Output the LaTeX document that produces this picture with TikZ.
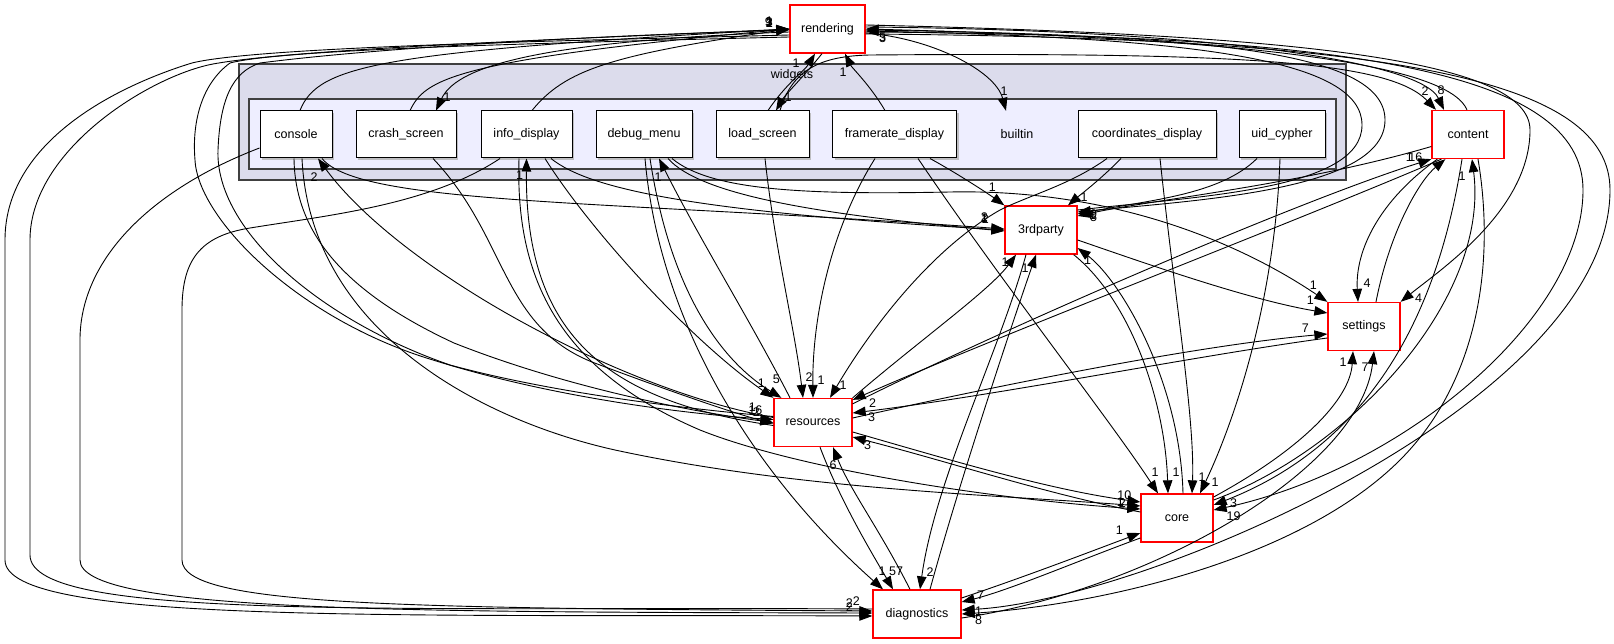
\documentclass[tikz,border=0pt]{standalone}
\usepackage{fontspec}
\setmainfont{Liberation Sans}
\usetikzlibrary{arrows.meta,shadows}

\definecolor{outerfill}{HTML}{DCDCEC}
\definecolor{innerfill}{HTML}{EEEEFF}
\definecolor{frameline}{HTML}{404040}

\begin{document}
\begin{tikzpicture}[x=1pt, y=-1pt,
    every node/.style={font=\fontsize{12.5}{15}\selectfont},
    dirbox/.style={draw=red, fill=white, line width=1.3pt, minimum height=48pt, inner sep=0pt},
    subbox/.style={draw=black, fill=white, line width=1pt, minimum height=47pt, inner sep=0pt,
      drop shadow={shadow xshift=2pt, shadow yshift=-2pt, fill=black!30, opacity=0.8}},
    dep/.style={line width=0.9pt, -{Triangle[length=13pt, width=9.5pt]}},
    num/.style={inner sep=0pt, at end}]
\useasboundingbox (0,0) rectangle (1614,644);

% the widgets cluster
\filldraw[fill=outerfill, draw=frameline, line width=1.6pt] (239,64) rectangle (1346,180);
\node (widgets) at (792,75) {widgets};
\filldraw[fill=innerfill, draw=frameline, line width=1.6pt] (249,99) rectangle (1336,169);

% subdirectories of builtin
\node[subbox, minimum width=72pt] (console) at (296,134.5) {console};
\node[subbox, minimum width=100pt] (crashscreen) at (406,134.5) {crash\_screen};
\node[subbox, minimum width=91pt] (infodisplay) at (526.5,134.5) {info\_display};
\node[subbox, minimum width=96pt] (debugmenu) at (644,134.5) {debug\_menu};
\node[subbox, minimum width=93pt] (loadscreen) at (762.5,134.5) {load\_screen};
\node[subbox, minimum width=124pt] (framerate) at (894.5,134.5) {framerate\_display};
\node[minimum height=47pt, inner sep=0pt] (builtin) at (1017,134.5) {builtin};
\node[subbox, minimum width=138pt] (coordsdisplay) at (1147,134.5) {coordinates\_display};
\node[subbox, minimum width=86pt] (uidcypher) at (1282,134.5) {uid\_cypher};

% top level directories
\node[dirbox, minimum width=75pt] (rendering) at (827.5,29) {rendering};
\node[dirbox, minimum width=72pt] (content) at (1468,134.5) {content};
\node[dirbox, minimum width=72pt] (thirdparty) at (1041,230) {3rdparty};
\node[dirbox, minimum width=72pt] (settings) at (1364,326.5) {settings};
\node[dirbox, minimum width=78pt] (resources) at (813,422.5) {resources};
\node[dirbox, minimum width=72pt] (core) at (1177,518) {core};
\node[dirbox, minimum width=88pt] (diagnostics) at (917,614) {diagnostics};

% widgets and rendering
\draw[dep] ([xshift=4]console.north) .. controls (318,65) and (380,52) .. (rendering.west) node[num, xshift=-20, yshift=8] {1};
\draw[dep] ([xshift=4]crashscreen.north) .. controls (425,80) and (450,60) .. (rendering.west) node[num, xshift=-20, yshift=6] {2};
\draw[dep] ([xshift=5.5]infodisplay.north) .. controls (565,70) and (610,55) .. (rendering.west) node[num, xshift=-21, yshift=7] {9};
\draw[dep] ([yshift=-3]rendering.west) .. controls (520,42) and (455,70) .. ([xshift=30]crashscreen.north) node[num, xshift=11, yshift=13] {1};
\draw[dep] ([xshift=5.5]loadscreen.north) .. controls (785,85) and (805,70) .. ([xshift=-12.5]rendering.south) node[num, xshift=-19, yshift=-10] {1};
\draw[dep] ([xshift=-5.5]rendering.south) .. controls (805,75) and (785,95) .. ([xshift=13.5]loadscreen.north) node[num, xshift=12, yshift=13] {1};
\draw[dep] ([xshift=-9.5]framerate.north) .. controls (870,85) and (852,68) .. ([xshift=17.5]rendering.south) node[num, xshift=-2, yshift=-19] {1};
\draw[dep] ([yshift=-4]rendering.east) .. controls (930,38) and (995,70) .. ([xshift=-11]builtin.north) node[num, xshift=-2, yshift=20] {1};

% rendering and content
\draw[dep] ([yshift=2]rendering.east) .. controls (1200,30) and (1420,60) .. ([xshift=-24]content.north) node[num, xshift=-3, yshift=20] {8};
\draw[dep] ([xshift=17.5]loadscreen.north) .. controls (792,70) and (820,56) .. (870,55) .. controls (1250,52) and (1390,62) .. ([xshift=-32]content.north) node[num, xshift=-11, yshift=19] {2};
\draw[dep] ([xshift=-1]content.north) .. controls (1450,70) and (1300,40) .. (rendering.east) node[num, xshift=17, yshift=-8] {5};

% into 3rdparty from the right
\draw[dep] ([yshift=-1]rendering.east) .. controls (1200,35) and (1385,50) .. (1385,120) .. controls (1385,190) and (1200,200) .. ([yshift=18]thirdparty.east) node[num, xshift=16, yshift=-2] {9};
\draw[dep] ([yshift=20]thirdparty.east) .. controls (1200,196) and (1362,190) .. (1362,125) .. controls (1362,60) and (1200,38) .. ([yshift=-2]rendering.east) node[num, xshift=17, yshift=-7] {3};
\draw[dep] ([xshift=-25]uidcypher.south) .. controls (1220,195) and (1150,200) .. ([yshift=16]thirdparty.east) node[num, xshift=15, yshift=-1] {1};
\draw[dep] ([yshift=-12]content.west) .. controls (1300,185) and (1150,200) .. ([yshift=14]thirdparty.east) node[num, xshift=16, yshift=-1] {5};

% widgets into 3rdparty
\draw[dep] ([xshift=35.5]framerate.south) .. controls (960,175) and (990,195) .. (thirdparty.north west) node[num, xshift=-12, yshift=18] {1};
\draw[dep] ([xshift=-26]coordsdisplay.south) .. controls (1100,180) and (1080,195) .. ([xshift=27]thirdparty.north) node[num, xshift=16, yshift=8] {1};
\draw[dep] ([xshift=26]console.south) .. controls (360,205) and (600,200) .. ([yshift=1]thirdparty.west) node[num, xshift=-20, yshift=12] {2};
\draw[dep] ([xshift=24.5]infodisplay.south) .. controls (590,190) and (700,212) .. (thirdparty.west) node[num, xshift=-20, yshift=12] {1};
\draw[dep] ([xshift=24]debugmenu.south) .. controls (700,195) and (820,215) .. ([yshift=-1]thirdparty.west) node[num, xshift=-19, yshift=12] {2};

% widgets into settings
\draw[dep] ([xshift=28]debugmenu.south) .. controls (710,190) and (800,195) .. (950,192) .. controls (1150,188) and (1280,270) .. (settings.north west) node[num, xshift=-14, yshift=17] {1};

% widgets into resources
\draw[dep] ([xshift=-2]console.south) .. controls (295,230) and (340,290) .. (454,343) .. controls (560,385) and (680,410) .. (resources.west) node[num, xshift=-18, yshift=12] {16};
\draw[dep] ([xshift=27]crashscreen.south) .. controls (510,240) and (500,330) .. (600,365) .. controls (680,395) and (740,415) .. ([yshift=-1]resources.west) node[num, xshift=-17, yshift=11] {2};
\draw[dep] ([xshift=18.5]infodisplay.south) .. controls (590,230) and (690,340) .. (resources.north west) node[num, xshift=-12, yshift=15] {1};
\draw[dep] ([xshift=6]debugmenu.south) .. controls (670,290) and (720,360) .. ([xshift=8]resources.north west) node[num, xshift=-5, yshift=19] {5};
\draw[dep] ([xshift=2.5]loadscreen.south) .. controls (775,250) and (795,330) .. ([xshift=-10]resources.north) node[num, xshift=6, yshift=21] {2};
\draw[dep] ([xshift=-19.5]framerate.south) .. controls (830,230) and (812,320) .. (resources.north) node[num, xshift=8, yshift=18] {1};
\draw[dep] ([xshift=-40]coordsdisplay.south) .. controls (1070,185) and (1030,195) .. (1000,210) .. controls (930,250) and (870,330) .. ([xshift=17]resources.north) node[num, xshift=13, yshift=13] {1};

% resources back into the widgets
\draw[dep] ([yshift=5]resources.west) .. controls (620,390) and (400,270) .. ([xshift=22]console.south) node[num, xshift=-4, yshift=-19] {2};
\draw[dep] ([yshift=-3]resources.west) .. controls (600,400) and (525,330) .. (infodisplay.south) node[num, xshift=-7, yshift=-17] {1};
\draw[dep] ([xshift=-23]resources.north) .. controls (750,320) and (700,240) .. ([xshift=15]debugmenu.south) node[num, xshift=-1, yshift=-19] {1};

% widgets into core
\draw[dep] ([xshift=6]console.south) .. controls (310,330) and (480,420) .. (615,450) .. controls (800,490) and (1000,495) .. ([yshift=12]core.west) node[num, xshift=-18, yshift=3] {2};
\draw[dep] ([xshift=-7.5]infodisplay.south) .. controls (515,280) and (560,370) .. (700,430) .. controls (800,470) and (1000,500) .. ([yshift=9]core.west) node[num, xshift=-20, yshift=7] {1};
\draw[dep] ([xshift=23.5]framerate.south) .. controls (1000,280) and (1110,420) .. ([xshift=-19]core.north) node[num, xshift=-3, yshift=21] {1};
\draw[dep] ([xshift=13]coordsdisplay.south) .. controls (1175,300) and (1195,420) .. ([xshift=15]core.north) node[num, xshift=10, yshift=16] {1};
\draw[dep] ([xshift=-2]uidcypher.south) .. controls (1275,300) and (1235,420) .. ([xshift=23]core.north) node[num, xshift=15, yshift=11] {1};

% widgets into diagnostics
\draw[dep] ([xshift=1]debugmenu.south) .. controls (660,330) and (760,480) .. ([xshift=-34]diagnostics.north) node[num, xshift=-1, yshift=18] {1};
\draw[dep] ([yshift=-13.5]console.west) .. controls (150,190) and (80,260) .. (80,340) -- (80,560) .. controls (80,612) and (400,612) .. ([yshift=1]diagnostics.west) node[num, xshift=-23, yshift=10] {2};
\draw[dep] ([xshift=-26.5]infodisplay.south) .. controls (430,205) and (330,215) .. (250,228) .. controls (200,236) and (182,260) .. (182,310) -- (182,560) .. controls (182,606) and (400,608) .. ([yshift=3]diagnostics.west) node[num, xshift=-16, yshift=10] {2};

% round the left side
\draw[dep] ([yshift=-6]rendering.west) .. controls (600,40) and (260,46) .. (192,63) .. controls (120,85) and (5,140) .. (5,240) -- (5,560) .. controls (5,625) and (400,614) .. ([yshift=-2]diagnostics.west) node[num, xshift=-23, yshift=9] {2};
\draw[dep] ([yshift=5]diagnostics.west) .. controls (400,606) and (30,622) .. (30,555) -- (30,240) .. controls (30,150) and (150,76) .. (213,64) .. controls (300,48) and (600,38) .. (rendering.west) node[num, xshift=-20, yshift=7] {3};
\draw[dep] ([yshift=-8]rendering.west) .. controls (500,44) and (280,50) .. (230,63) .. controls (200,85) and (192,125) .. (195,160) .. controls (198,220) and (300,320) .. (433,360) .. controls (560,400) and (700,415) .. ([yshift=3]resources.west) node[num, xshift=-21, yshift=12] {1};
\draw[dep] ([yshift=6]resources.west) .. controls (700,410) and (560,395) .. (450,365) .. controls (320,320) and (215,230) .. (218,150) .. controls (220,100) and (232,72) .. (260,63) .. controls (400,45) and (650,34) .. ([yshift=-1]rendering.west) node[num, xshift=-20, yshift=7] {1};

% resources, 3rdparty and diagnostics
\draw[dep] (resources.north east) .. controls (920,340) and (990,290) .. ([xshift=-25]thirdparty.south) node[num, xshift=-11, yshift=-8] {1};
\draw[dep] ([xshift=13]diagnostics.north) .. controls (960,480) and (1010,330) .. ([xshift=-5]thirdparty.south) node[num, xshift=-11, yshift=-14] {1};
\draw[dep] ([xshift=-15]thirdparty.south) .. controls (1000,350) and (935,480) .. ([xshift=3]diagnostics.north) node[num, xshift=10, yshift=17] {2};
\draw[dep] ([xshift=7]resources.south) .. controls (840,500) and (870,550) .. ([xshift=-24]diagnostics.north) node[num, xshift=3, yshift=18] {57};
\draw[dep] ([xshift=-7]diagnostics.north) .. controls (880,530) and (850,490) .. ([xshift=20]resources.south) node[num, xshift=0, yshift=-18] {6};

% 3rdparty and core
\draw[dep] ([xshift=-4]thirdparty.south east) .. controls (1130,300) and (1165,400) .. ([xshift=-9]core.north) node[num, xshift=8, yshift=21] {1};
\draw[dep] ([xshift=6]core.north) .. controls (1180,380) and (1120,280) .. ([yshift=-18]thirdparty.east) node[num, xshift=10, yshift=-12] {1};

% settings
\draw[dep] ([yshift=-10]thirdparty.east) .. controls (1150,265) and (1250,300) .. ([yshift=13.5]settings.west) node[num, xshift=-17, yshift=13] {1};
\draw[dep] ([yshift=4.5]resources.east) .. controls (1000,385) and (1200,345) .. ([yshift=-7.5]settings.west) node[num, xshift=-22, yshift=6] {7};
\draw[dep] ([yshift=-11.5]settings.west) .. controls (1200,355) and (1000,395) .. ([yshift=9.5]resources.east) node[num, xshift=19, yshift=-4] {3};
\draw[dep] ([xshift=6]content.south west) .. controls (1380,200) and (1355,250) .. ([xshift=-6]settings.north) node[num, xshift=9, yshift=19] {4};
\draw[dep] ([xshift=12]settings.north) .. controls (1390,230) and (1420,180) .. ([xshift=14]content.south west) node[num, xshift=-36, yshift=2] {1};
\draw[dep] ([yshift=4]rendering.east) .. controls (1300,35) and (1530,60) .. (1530,130) .. controls (1530,210) and (1440,270) .. (settings.north east) node[num, xshift=18, yshift=4] {4};
\draw[dep] ([yshift=21]core.east) .. controls (1300,450) and (1350,400) .. ([xshift=-11]settings.south) node[num, xshift=-10, yshift=-11] {1};
\draw[dep] ([yshift=-4]diagnostics.east) .. controls (1150,590) and (1360,470) .. ([xshift=10]settings.south) node[num, xshift=-9, yshift=-16] {7};

% content
\draw[dep] ([yshift=-6]resources.north east) .. controls (1000,330) and (1300,200) .. (content.south west) node[num, xshift=-16, yshift=2] {16};
\draw[dep] ([xshift=10]content.south west) .. controls (1300,220) and (1000,335) .. ([yshift=-2]resources.north east) node[num, xshift=20, yshift=-3] {2};
\draw[dep] ([yshift=18]core.east) .. controls (1350,450) and (1490,300) .. ([xshift=4]content.south) node[num, xshift=-10, yshift=-17] {1};
\draw[dep] ([xshift=-6]content.south) .. controls (1440,300) and (1380,440) .. ([yshift=13]core.east) node[num, xshift=20, yshift=2] {3};
\draw[dep] ([xshift=10]content.south) .. controls (1495,260) and (1480,380) .. (1400,460) .. controls (1300,560) and (1100,605) .. (diagnostics.east) node[num, xshift=17, yshift=-6] {8};

% round the right side
\draw[dep] ([yshift=-3]rendering.east) .. controls (1350,35) and (1583,70) .. (1583,190) .. controls (1583,320) and (1400,470) .. ([yshift=8]core.east) node[num, xshift=20, yshift=-6] {19};
\draw[dep] ([yshift=-5]rendering.east) .. controls (1400,38) and (1610,80) .. (1610,190) .. controls (1610,400) and (1150,600) .. ([yshift=4]diagnostics.east) node[num, xshift=17, yshift=-1] {1};

% resources, core and diagnostics
\draw[dep] ([yshift=-9.5]resources.east) .. controls (950,460) and (1050,490) .. ([yshift=16]core.west) node[num, xshift=-16, yshift=7] {10};
\draw[dep] ([yshift=6]core.west) .. controls (1050,495) and (950,462) .. ([yshift=-14.5]resources.east) node[num, xshift=15, yshift=-8] {3};
\draw[dep] ([yshift=16]diagnostics.east) .. controls (1030,575) and (1100,548) .. ([yshift=-15]core.west) node[num, xshift=-21, yshift=3] {1};
\draw[dep] ([yshift=-20]core.west) .. controls (1080,560) and (1010,590) .. ([yshift=12]diagnostics.east) node[num, xshift=19, yshift=7] {7};
\end{tikzpicture}
\end{document}
